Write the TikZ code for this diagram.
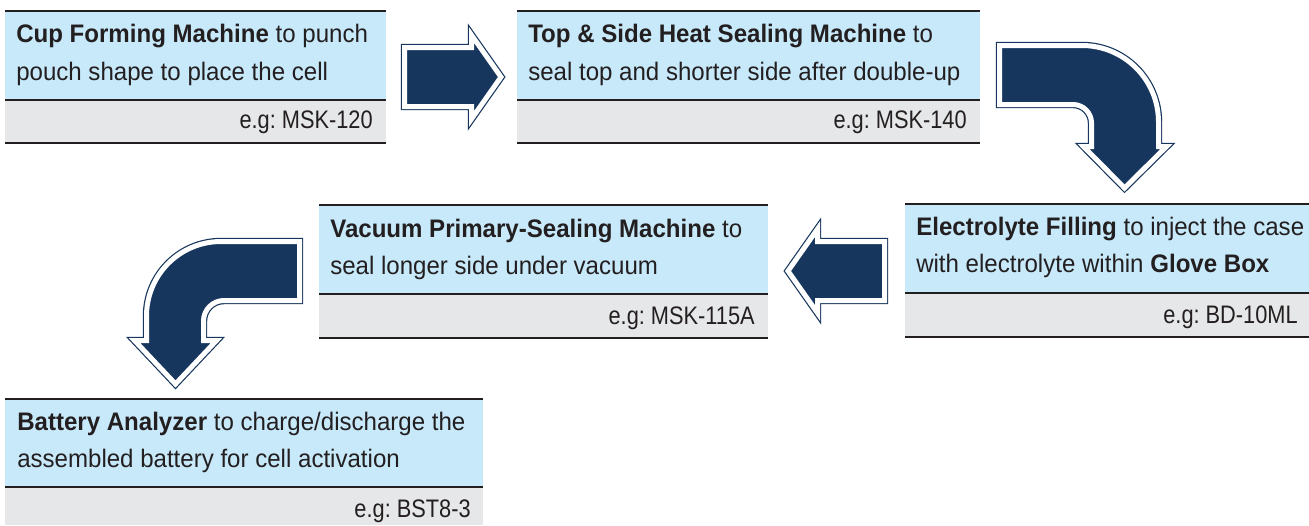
\documentclass[tikz,border=0pt]{standalone}
\usepackage{fontspec}
\setmainfont[FakeStretch=0.95]{Liberation Sans}
\newfontfamily\egfont[FakeStretch=0.86]{Liberation Sans}
\frenchspacing
\definecolor{boxblue}{HTML}{C7E9FA}
\definecolor{boxgray}{HTML}{E6E7E8}
\definecolor{navy}{HTML}{17365D}
\definecolor{txt}{HTML}{231F20}
\tikzset{
  rule/.style={draw=txt, line width=1.5pt},
  bluepart/.style={fill=boxblue},
  graypart/.style={fill=boxgray},
  blockarrow/.style={fill=navy, draw=navy, double=white, double distance=3.75pt, line width=0.9pt, line join=miter},
  lbl/.style={anchor=base west, inner sep=0pt, text=txt, font=\fontsize{19}{21}\selectfont},
  eg/.style={anchor=base east, inner sep=0pt, text=txt, font=\egfont\fontsize{19}{21}\selectfont}
}
\begin{document}
\begin{tikzpicture}[x=0.75pt,y=-0.75pt]
\useasboundingbox (0,0) rectangle (1309,525);
% ---------- boxes ----------
% box 1
\path[bluepart] (5,11) rectangle (386,100);
\path[graypart] (5,100) rectangle (386,143);
\draw[rule] (5,11) -- (386,11) (5,100) -- (386,100) (5,143) -- (386,143);
\node[lbl] (b1a) at (16,42) {\textbf{Cup Forming Machine} to punch};
\node[lbl] (b1b) at (16,80) {pouch shape to place the cell};
\node[eg] (b1e) at (373,128) {e.g: MSK-120};
% box 2
\path[bluepart] (517,11) rectangle (980,100);
\path[graypart] (517,100) rectangle (980,143);
\draw[rule] (517,11) -- (980,11) (517,100) -- (980,100) (517,143) -- (980,143);
\node[lbl] (b2a) at (528,42) {\textbf{Top \& Side Heat Sealing Machine} to};
\node[lbl] (b2b) at (528,80) {seal top and shorter side after double-up};
\node[eg] (b2e) at (967,128) {e.g: MSK-140};
% box 3
\path[bluepart] (905,204) rectangle (1309,293);
\path[graypart] (905,293) rectangle (1309,337);
\draw[rule] (905,204) -- (1309,204) (905,293) -- (1309,293) (905,337) -- (1309,337);
\node[lbl] (b3a) at (916,235) {\textbf{Electrolyte Filling} to inject the case};
\node[lbl] (b3b) at (916,272) {with electrolyte within \textbf{Glove Box}};
\node[eg] (b3e) at (1298,323) {e.g: BD-10ML};
% box 4
\path[bluepart] (319,205) rectangle (768,294);
\path[graypart] (319,294) rectangle (768,338);
\draw[rule] (319,205) -- (768,205) (319,294) -- (768,294) (319,338) -- (768,338);
\node[lbl] (b4a) at (330,237) {\textbf{Vacuum Primary-Sealing Machine} to};
\node[lbl] (b4b) at (330,274) {seal longer side under vacuum};
\node[eg] (b4e) at (755,324) {e.g: MSK-115A};
% box 5
\path[bluepart] (5,399) rectangle (483,487);
\path[graypart] (5,487) rectangle (483,525);
\draw[rule] (5,399) -- (483,399) (5,487) -- (483,487);
\node[lbl] (b5a) at (17,430) {\textbf{Battery Analyzer} to charge/discharge the};
\node[lbl] (b5b) at (17,467) {assembled battery for cell activation};
\node[eg] (b5e) at (471,517) {e.g: BST8-3};
% ---------- block arrows ----------
% right arrow (box 1 -> box 2)
\path[blockarrow] (404.5,47.5) -- (471.5,47.5) -- (471.5,35) -- (501,77) -- (471.5,119) -- (471.5,106.5) -- (404.5,106.5) -- cycle;
% curved arrow (box 2 -> box 3)
\path[blockarrow] (999.5,45.5) -- (1082,45.5) .. controls (1124.25,45.5) and (1158.5,79.75) .. (1158.5,122)
  -- (1158.5,146.5) -- (1166.5,146.5) -- (1124.5,188) -- (1083.5,146.5) -- (1091.5,146.5) -- (1091.5,123)
  .. controls (1091.5,112.8) and (1083.2,104.5) .. (1073,104.5) -- (999.5,104.5) -- cycle;
% left arrow (box 3 -> box 4)
\path[blockarrow] (884.5,241.5) -- (817.5,241.5) -- (817.5,229) -- (788,271) -- (817.5,313) -- (817.5,300.5) -- (884.5,300.5) -- cycle;
% curved arrow (box 4 -> box 5)
\path[blockarrow] (299.5,241.5) -- (221,241.5) .. controls (179.85,241.5) and (146.5,274.85) .. (146.5,316)
  -- (146.5,340.5) -- (134.5,340.5) -- (175.5,384) -- (216.5,340.5) -- (203.5,340.5) -- (203.5,321)
  .. controls (203.5,309.7) and (212.7,300.5) .. (224,300.5) -- (299.5,300.5) -- cycle;
\end{tikzpicture}
\end{document}
